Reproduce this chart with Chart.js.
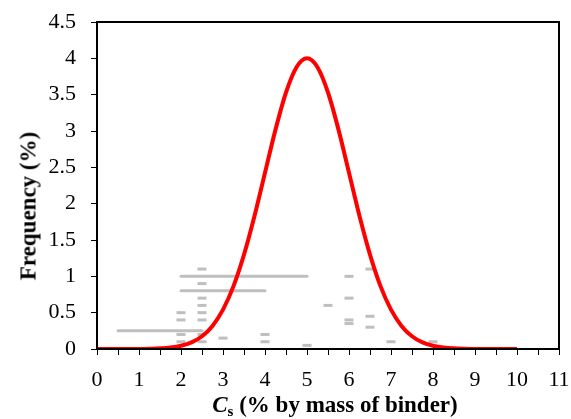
<!DOCTYPE html>
<html>
<head>
<meta charset="utf-8">
<script src="https://cdn.jsdelivr.net/npm/chart.js@4"></script>
<style>
  html, body { margin: 0; padding: 0; background: #fff; }
  #wrap { position: relative; width: 571px; height: 419px; }
  canvas { position: absolute; left: 0; top: 0; }
  .ttl { position: absolute; font-family: "Liberation Serif", "Times New Roman", serif; font-weight: bold; font-size: 23px; color: #000; white-space: nowrap; line-height: 1; }
  #ytitle { left: 28px; top: 206px; transform: translate(-50%, -50%) rotate(-90deg); }
  #xtitle { left: 335px; top: 404px; transform: translate(-50%, -50%); }
  #xtitle sub { font-size: 15px; vertical-align: -4px; line-height: 0; }
</style>
</head>
<body>
<div id="wrap">
  <canvas id="c" width="571" height="419"></canvas>
  <div class="ttl" id="ytitle">Frequency (%)</div>
  <div class="ttl" id="xtitle"><i>C</i><sub>s</sub> (% by mass of binder)</div>
</div>
<script>
// Fitted distribution curve (red)
const curveX = [0,0.25,0.5,0.75,1,1.25,1.5,1.75,2,2.25,2.5,2.75,3,3.25,3.5,3.75,4,4.25,4.5,4.75,5,5.25,5.5,5.75,6,6.25,6.5,6.75,7,7.25,7.5,7.75,8,8.25,8.5,8.75,9,9.25,9.5,9.75,10];
const curveY = [0,0.0001,0.0002,0.0005,0.001,0.004,0.009,0.02,0.044,0.091,0.176,0.318,0.541,0.865,1.299,1.831,2.426,3.019,3.53,3.877,4,3.877,3.53,3.019,2.426,1.831,1.299,0.865,0.541,0.318,0.176,0.091,0.044,0.02,0.009,0.004,0.001,0.0005,0.0002,0.0001,0];

// Grey range bars (start, end, level)
const rangeStart = [2, 2, 0.5];
const rangeEnd   = [5, 4, 2.5];
const rangeLevel = [1.0, 0.8, 0.25];

// Grey individual observations (dash markers)
const obsX = [2,2,2,2, 2.5,2.5,2.5,2.5,2.5,2.5,2.5,2.5, 3, 4,4, 5, 5.5, 6,6,6,6, 6.5,6.5,6.5, 7, 8];
const obsY = [0.5,0.4,0.2,0.1, 1.1,0.9,0.7,0.6,0.5,0.4,0.2,0.1, 0.15, 0.2,0.1, 0.05, 0.6, 1.0,0.7,0.4,0.35, 1.1,0.45,0.3, 0.1, 0.1];

// Axis ranges / ticks
const xMin = 0, xMax = 11, xStep = 0.5;
const yMin = 0, yMax = 4.5, yStep = 0.5;

const GREY = '#BFBFBF';
const datasets = [];
datasets.push({
  type: 'line',
  data: curveX.map((x, i) => ({ x: x, y: curveY[i] })),
  borderColor: '#FF0000',
  borderWidth: 4,
  pointRadius: 0,
  cubicInterpolationMode: 'monotone',
  fill: false,
  order: 0
});
rangeStart.forEach((s, i) => {
  datasets.push({
    type: 'line',
    data: [{ x: s, y: rangeLevel[i] }, { x: rangeEnd[i], y: rangeLevel[i] }],
    borderColor: GREY,
    borderWidth: 3,
    borderCapStyle: 'round',
    pointRadius: 0,
    fill: false,
    order: 2
  });
});
datasets.push({
  type: 'scatter',
  data: obsX.map((x, i) => ({ x: x, y: obsY[i] })),
  pointStyle: 'line',
  pointRadius: 4.5,
  pointBorderWidth: 3,
  borderColor: GREY,
  backgroundColor: GREY,
  showLine: false,
  order: 1
});

const frame = {
  id: 'frame',
  afterDraw(chart) {
    const a = chart.chartArea, ctx = chart.ctx;
    ctx.save();
    ctx.strokeStyle = '#000';
    ctx.lineWidth = 2;
    ctx.strokeRect(a.left, a.top, a.right - a.left, a.bottom - a.top);
    ctx.restore();
  }
};

function zeroPad(s) { s.paddingTop = 0; s.paddingBottom = 0; s.paddingLeft = 0; s.paddingRight = 0; }

const tickFont = { family: '"Liberation Serif", "Times New Roman", serif', size: 22 };
new Chart(document.getElementById('c'), {
  data: { datasets: datasets },
  options: {
    responsive: false,
    animation: false,
    devicePixelRatio: 1,
    layout: { padding: { left: 0, top: 22, right: 12, bottom: 0 } },
    plugins: { legend: { display: false }, tooltip: { enabled: false } },
    scales: {
      x: {
        type: 'linear', min: xMin, max: xMax,
        ticks: {
          stepSize: xStep, autoSkip: false, maxRotation: 0, padding: 12,
          color: '#000', font: tickFont,
          callback: v => Number.isInteger(v) ? String(v) : ''
        },
        grid: { drawOnChartArea: false, drawTicks: true, tickLength: 6, color: '#000', lineWidth: 1 },
        border: { color: '#000', width: 2 },
        afterFit: s => { s.height = 70; zeroPad(s); }
      },
      y: {
        type: 'linear', min: yMin, max: yMax,
        ticks: { stepSize: yStep, padding: 15, color: '#000', font: tickFont, callback: v => String(v) },
        grid: { drawOnChartArea: false, drawTicks: true, tickLength: 6, color: '#000', lineWidth: 1 },
        border: { color: '#000', width: 2 },
        afterFit: s => { s.width = 97; zeroPad(s); }
      }
    }
  },
  plugins: [frame]
});
</script>
</body>
</html>
